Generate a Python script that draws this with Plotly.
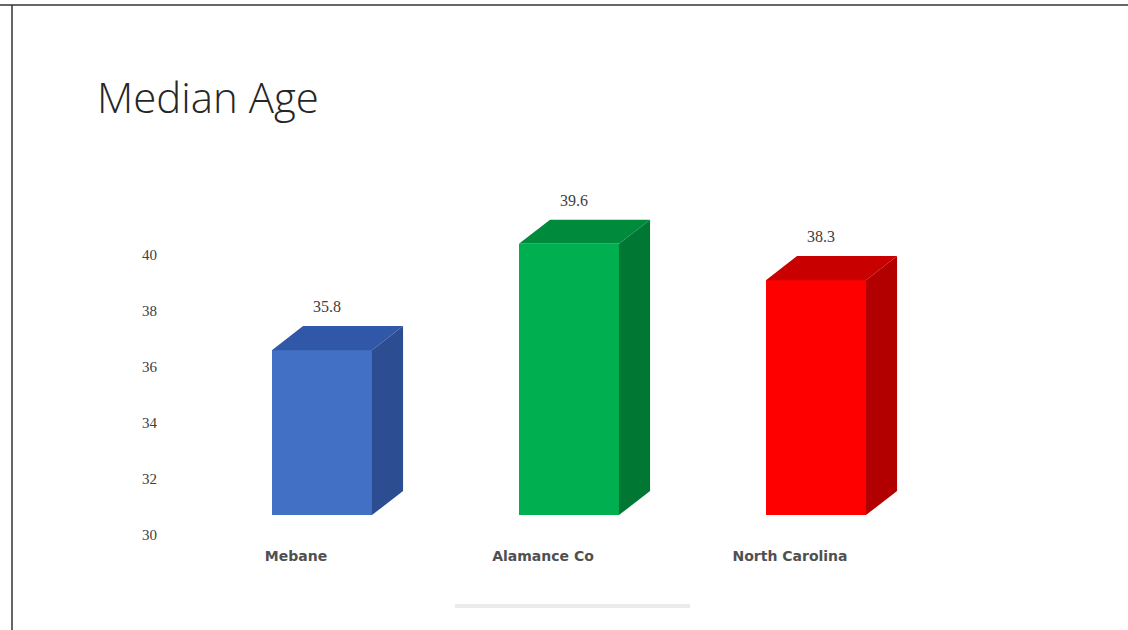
import plotly.graph_objects as go

# Median age by area
categories = ["Mebane", "Alamance Co", "North Carolina"]
median_age = [35.8, 39.6, 38.3]
value_labels = ["35.8", "39.6", "38.3"]
y_ticks = [30, 32, 34, 36, 38, 40]

# bar colours: front, side, top
front_colors = ["#4170C4", "#00B050", "#FF0000"]
side_colors = ["#2C4D92", "#007833", "#B20000"]
top_colors = ["#3057A8", "#008A3C", "#C80000"]

# 3D projection settings (axis units)
BAR_W = 0.405       # front face width
BAR_SHIFT = 0.105   # front face offset from category label
DEPTH_X = 0.126     # oblique depth, horizontal
DEPTH_Y = 0.86      # oblique depth, vertical
FLOOR = 30.71       # visual floor of the bars
LIFT = 0.8          # front face lift over the tick scale

# figure geometry in pixels
W, H = 1128, 630
ML, MR, MT, MB = 168, 103, 171, 84
PW, PH = W - ML - MR, H - MT - MB


def px(x):
    return (x - ML) / PW


def py(y):
    return (H - MB - y) / PH


fig = go.Figure()

xs = [i + BAR_SHIFT for i in range(len(categories))]

# front faces
fig.add_trace(go.Bar(
    x=xs,
    y=[v + LIFT - FLOOR for v in median_age],
    base=FLOOR,
    width=BAR_W,
    marker=dict(color=front_colors, line=dict(width=0)),
    hoverinfo="skip",
    showlegend=False,
))

# side and top faces of each bar
for xc, v, sc, tc in zip(xs, median_age, side_colors, top_colors):
    x0, x1 = xc - BAR_W / 2, xc + BAR_W / 2
    y0, y1 = FLOOR, v + LIFT
    fig.add_trace(go.Scatter(
        x=[x1, x1 + DEPTH_X, x1 + DEPTH_X, x1, x1],
        y=[y0, y0 + DEPTH_Y, y1 + DEPTH_Y, y1, y0],
        fill="toself", fillcolor=sc, mode="lines", line=dict(width=0),
        hoverinfo="skip", showlegend=False,
    ))
    fig.add_trace(go.Scatter(
        x=[x0, x1, x1 + DEPTH_X, x0 + DEPTH_X, x0],
        y=[y1, y1, y1 + DEPTH_Y, y1 + DEPTH_Y, y1],
        fill="toself", fillcolor=tc, mode="lines", line=dict(width=0),
        hoverinfo="skip", showlegend=False,
    ))

# value labels above each bar
for xc, v, lab in zip(xs, median_age, value_labels):
    fig.add_annotation(
        x=xc + 0.02, y=v + LIFT + DEPTH_Y + 0.7,
        text=lab, showarrow=False, xanchor="center", yanchor="middle",
        font=dict(family="Liberation Serif", size=16, color="#404040"),
    )

fig.update_layout(
    width=W, height=H,
    margin=dict(l=ML, r=MR, t=MT, b=MB),
    paper_bgcolor="white", plot_bgcolor="white",
    bargap=0,
    title=dict(
        text="Median Age", x=97 / W, xanchor="left",
        y=1 - 98 / H, yanchor="middle",
        font=dict(family="Open Sans", size=42, color="#262626", weight=300),
    ),
    xaxis=dict(
        range=[(ML - 296) / 247, (W - MR - 296) / 247],
        tickvals=list(range(len(categories))), ticktext=categories,
        showgrid=False, zeroline=False, showline=False, ticks="",
        tickfont=dict(family="DejaVu Sans", size=14, color="#505050", weight="bold"),
    ),
    yaxis=dict(
        range=[29.607, 43],
        tickvals=y_ticks, ticktext=[str(t) for t in y_ticks],
        showgrid=False, zeroline=False, showline=False, ticks="",
        ticklabelstandoff=10,
        tickfont=dict(family="Liberation Serif", size=15, color="#404040"),
    ),
    shapes=[
        # slide frame edges
        dict(type="line", xref="paper", yref="paper", x0=px(0), x1=px(W),
             y0=py(5), y1=py(5), line=dict(color="#333333", width=1.5)),
        dict(type="line", xref="paper", yref="paper", x0=px(12), x1=px(12),
             y0=py(5), y1=py(H), line=dict(color="#333333", width=1.5)),
        # faint footer strip
        dict(type="line", xref="paper", yref="paper", x0=px(455), x1=px(690),
             y0=py(606), y1=py(606), line=dict(color="#ebebeb", width=4)),
    ],
)

fig.write_html("out.html")
